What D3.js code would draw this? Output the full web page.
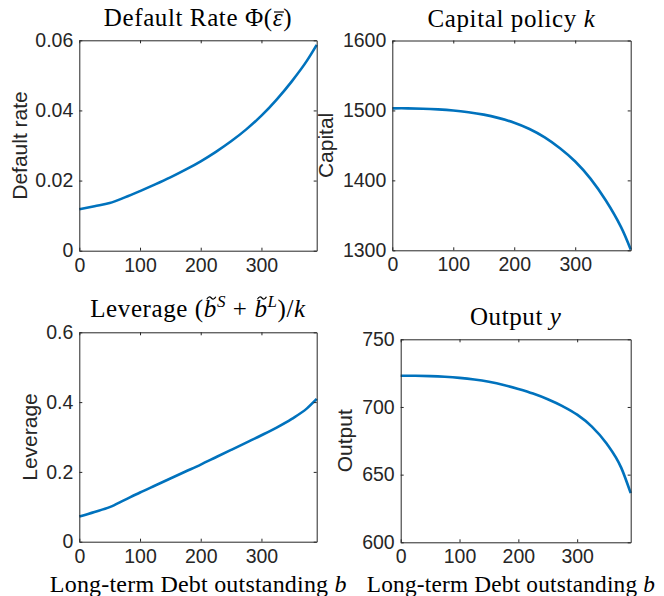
<!DOCTYPE html>
<html>
<head>
<meta charset="utf-8">
<script src="https://cdn.jsdelivr.net/npm/d3@7"></script>
<style>
  body { margin: 0; background: #fff; }
</style>
</head>
<body>
<div id="chart"></div>
<script>
// long-term debt outstanding b (x values shared by all panels)
var debtB = [0, 25, 50, 75, 100, 125, 150, 175, 200, 225, 250, 275, 300, 325, 350, 375, 391];

var defaultRate = [0.0118, 0.0127, 0.0136, 0.0152, 0.0170, 0.0189, 0.0209, 0.0231, 0.0255, 0.0282,
                   0.0312, 0.0346, 0.0385, 0.0431, 0.0483, 0.0542, 0.0587];
var capital = [1503, 1503, 1502.5, 1501.5, 1500, 1497.5, 1494, 1489, 1482.5, 1473.5,
               1461.5, 1446, 1427, 1402.5, 1371.5, 1333.5, 1301];
var leverage = [0.072, 0.085, 0.099, 0.120, 0.141, 0.161, 0.181, 0.201, 0.221, 0.242,
                0.263, 0.284, 0.305, 0.327, 0.352, 0.382, 0.409];
var output = [723.1, 723.05, 722.8, 722.3, 721.5, 720.3, 718.6, 716.3, 713.3, 709.9,
              705.7, 700.6, 694.3, 685.5, 673, 655, 636.3];

var xTicks = [0, 100, 200, 300];
var xMax = 391;

var panels = [
  { values: defaultRate, yDomain: [0, 0.06], yTicks: [0, 0.02, 0.04, 0.06], ylabel: "Default rate",
    box: [79.3, 316.7, 40.3, 250.7], titleY: 26, ylabX: 26.5, curve: d3.curveMonotoneX,
    title: [{ t: "Default Rate Φ(" }, { t: "\u03B5", i: true, acc: "bar" }, { t: ")" }] },
  { values: capital, yDomain: [1300, 1600], yTicks: [1300, 1400, 1500, 1600], ylabel: "Capital",
    box: [392.3, 630.7, 40.5, 250.3], titleY: 27, ylabX: 333, curve: d3.curveNatural,
    title: [{ t: "Capital policy " }, { t: "k", i: true }] },
  { values: leverage, yDomain: [0, 0.6], yTicks: [0, 0.2, 0.4, 0.6], ylabel: "Leverage",
    box: [79.3, 316.7, 332.3, 541.7], titleY: 317, ylabX: 36.5, curve: d3.curveMonotoneX,
    xlab: { x: 198.3, size: 24 },
    title: [{ t: "Leverage (" }, { t: "b", i: true, acc: "tilde" }, { t: "S", i: true, sup: true },
            { t: " + " }, { t: "b", i: true, acc: "tilde" }, { t: "L", i: true, sup: true },
            { t: ")/" }, { t: "k", i: true }] },
  { values: output, yDomain: [600, 750], yTicks: [600, 650, 700, 750], ylabel: "Output",
    box: [400.7, 630.7, 339.3, 542.3], titleY: 325, ylabX: 351.5, curve: d3.curveMonotoneX,
    xlab: { x: 511, size: 23.3 },
    title: [{ t: "Output " }, { t: "y", i: true }] }
];

var svg = d3.select("#chart")
  .append("svg")
  .attr("width", 664)
  .attr("height", 596)
  .style("font-family", "'Liberation Sans', Arial, sans-serif");

var ink = "#262626";
var serif = "'Liberation Serif', 'Times New Roman', serif";

panels.forEach(function (p) {
  var x = d3.scaleLinear().domain([0, xMax]).range([p.box[0], p.box[1]]);
  var y = d3.scaleLinear().domain(p.yDomain).range([p.box[3], p.box[2]]);
  var g = svg.append("g");

  // line
  g.append("path")
    .datum(debtB.map(function (b, i) { return [b, p.values[i]]; }))
    .attr("fill", "none")
    .attr("stroke", "#0072BD")
    .attr("stroke-width", 2.6)
    .attr("d", d3.line()
      .x(function (d) { return x(d[0]); })
      .y(function (d) { return y(d[1]); })
      .curve(p.curve));

  // axes, ticks pointing inward on all four sides
  var axB = g.append("g").attr("transform", "translate(0," + p.box[3] + ")")
    .call(d3.axisBottom(x).tickValues(xTicks).tickFormat(String).tickSizeInner(-3).tickSizeOuter(0).tickPadding(7));
  var axT = g.append("g").attr("transform", "translate(0," + p.box[2] + ")")
    .call(d3.axisTop(x).tickValues(xTicks).tickFormat("").tickSizeInner(-3).tickSizeOuter(0));
  var axL = g.append("g").attr("transform", "translate(" + p.box[0] + ",0)")
    .call(d3.axisLeft(y).tickValues(p.yTicks).tickFormat(String).tickSizeInner(-3).tickSizeOuter(0).tickPadding(6));
  var axR = g.append("g").attr("transform", "translate(" + p.box[1] + ",0)")
    .call(d3.axisRight(y).tickValues(p.yTicks).tickFormat("").tickSizeInner(-3).tickSizeOuter(0));

  [axB, axT, axL, axR].forEach(function (a) {
    a.select(".domain").attr("stroke", ink).attr("stroke-width", 1);
    a.selectAll(".tick line").attr("stroke", ink);
    a.selectAll("text")
      .attr("fill", ink)
      .style("font-family", "'Liberation Sans', Arial, sans-serif")
      .style("font-size", "19.5px");
  });

  // title with math parts
  var title = g.append("text")
    .attr("x", (p.box[0] + p.box[1]) / 2)
    .attr("y", p.titleY)
    .attr("text-anchor", "middle")
    .attr("fill", "#000")
    .style("font-family", serif)
    .style("font-size", "25px")
    .style("letter-spacing", "0.6px");
  var raised = false, pos = 0;
  p.title.forEach(function (part) {
    var ts = title.append("tspan").text(part.t);
    part.start = pos;
    pos += part.t.length;
    if (part.i) ts.style("font-style", "italic");
    if (part.sup) {
      ts.attr("dy", -10).style("font-size", "17px");
      raised = true;
    } else if (raised) {
      ts.attr("dy", 10);
      raised = false;
    }
  });
  // accents (overline / tilde) drawn over their glyphs
  p.title.forEach(function (part) {
    if (!part.acc) return;
    var ext = title.node().getExtentOfChar(part.start);
    var cx = ext.x + ext.width / 2 + 1;
    if (part.acc === "bar") {
      g.append("line")
        .attr("x1", cx - 5).attr("x2", cx + 5)
        .attr("y1", p.titleY - 14).attr("y2", p.titleY - 14)
        .attr("stroke", "#000").attr("stroke-width", 1.2);
    } else {
      var ty = p.titleY - 19;
      g.append("path")
        .attr("d", "M" + (cx - 4.5) + "," + (ty + 1.2) +
                   " Q" + (cx - 2.25) + "," + (ty - 2.6) + " " + cx + "," + ty +
                   " T" + (cx + 4.5) + "," + (ty - 1.2))
        .attr("fill", "none")
        .attr("stroke", "#000").attr("stroke-width", 1.2);
    }
  });

  // y label
  g.append("text")
    .attr("transform", "translate(" + p.ylabX + "," + (p.box[2] + p.box[3]) / 2 + ")rotate(-90)")
    .attr("text-anchor", "middle")
    .attr("fill", ink)
    .style("font-size", "21px")
    .text(p.ylabel);

  // x label
  if (p.xlab) {
    var xl = g.append("text")
      .attr("x", p.xlab.x)
      .attr("y", 592)
      .attr("text-anchor", "middle")
      .attr("fill", "#000")
      .style("font-family", serif)
      .style("font-size", p.xlab.size + "px")
      .style("letter-spacing", "0.2px");
    xl.append("tspan").text("Long-term Debt outstanding ");
    xl.append("tspan").style("font-style", "italic").text("b");
  }
});
</script>
</body>
</html>
